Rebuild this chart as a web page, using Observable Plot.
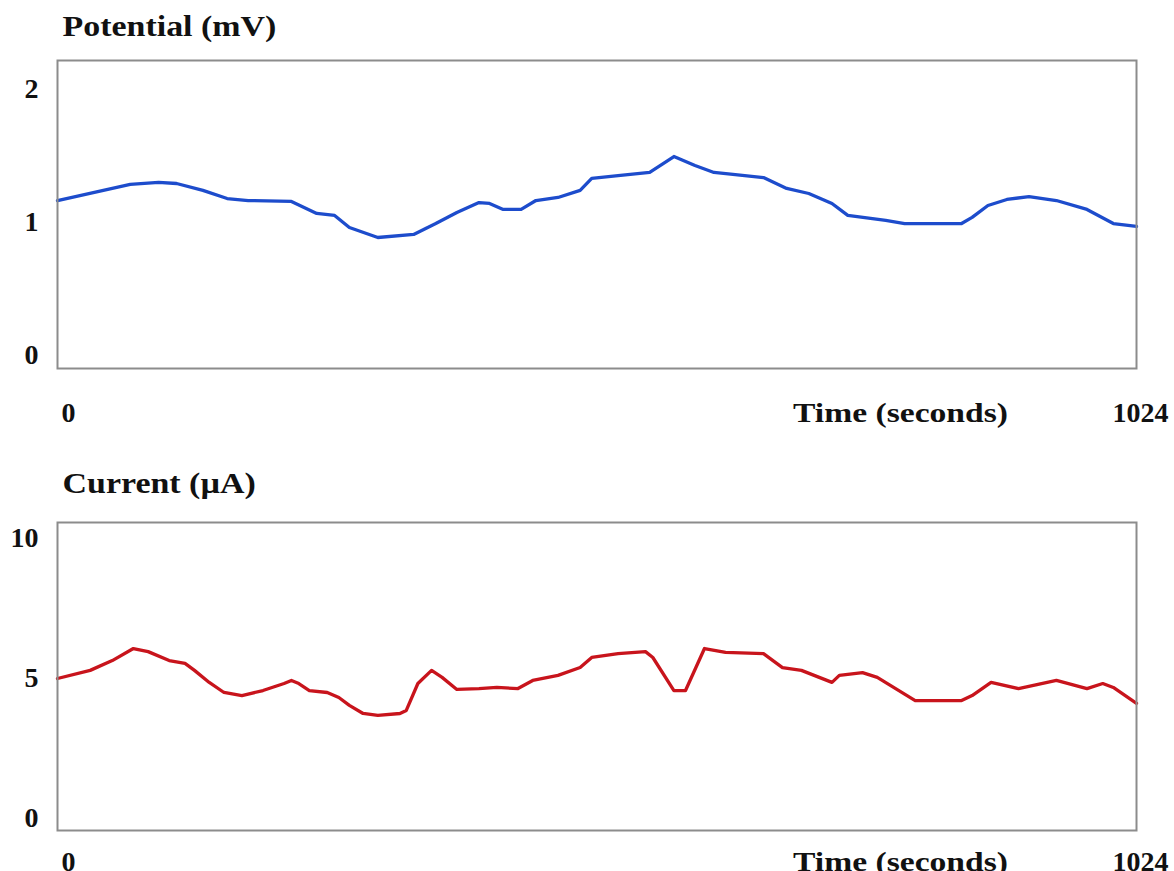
<!DOCTYPE html>
<html>
<head>
<meta charset="utf-8">
<script src="https://cdn.jsdelivr.net/npm/d3@7"></script>
<script src="https://cdn.jsdelivr.net/npm/@observablehq/plot@0.6"></script>
<style>
  html, body { margin: 0; padding: 0; background: #fff; overflow: hidden; width: 1174px; height: 871px; }
  #wrap { position: relative; width: 1174px; height: 871px; overflow: hidden; }
  .panel { position: absolute; left: 0; }
</style>
</head>
<body>
<div id="wrap">
  <div id="p1" class="panel" style="top:0px"></div>
  <div id="p2" class="panel" style="top:462px"></div>
</div>
<script>
// ---- data ----
const potentialTime = [0,35,69,96,113,138,161,181,222,236,246,263,277,304,338,359,379,400,410,423,440,454,475,496,507,532,562,585,605,623,641,670,692,713,735,750,786,804,858,868,883,901,922,948,977,1002,1024];
const potentialValue = [1.165,1.226,1.286,1.301,1.293,1.241,1.180,1.165,1.158,1.105,1.068,1.053,0.962,0.887,0.910,0.992,1.075,1.150,1.143,1.098,1.098,1.165,1.188,1.241,1.331,1.353,1.376,1.496,1.429,1.376,1.361,1.338,1.256,1.218,1.143,1.053,1.015,0.992,0.992,1.038,1.128,1.173,1.195,1.165,1.098,0.992,0.970];

const currentTime = [0,31,52,72,86,106,121,130,144,158,175,195,215,222,229,239,256,267,277,290,304,325,331,342,355,365,379,400,417,437,451,475,496,507,532,558,565,585,596,614,634,670,688,706,735,742,764,778,814,858,868,886,912,948,977,992,1002,1024];
const currentValue = [5.00,5.29,5.64,6.07,5.96,5.64,5.54,5.29,4.86,4.50,4.39,4.57,4.82,4.93,4.82,4.57,4.50,4.32,4.04,3.75,3.68,3.75,3.86,4.82,5.29,5.04,4.61,4.64,4.68,4.64,4.93,5.11,5.39,5.75,5.89,5.96,5.75,4.57,4.57,6.07,5.93,5.89,5.39,5.29,4.86,5.11,5.21,5.04,4.21,4.21,4.39,4.86,4.64,4.93,4.64,4.82,4.68,4.11];

const potentialTicks = [0, 1, 2];
const currentTicks = [0, 5, 10];
const timeTicks = [0, 1024];
const timeTickLabels = ["0", "1024"];
const timeLabel = "Time (seconds)";
const potentialTitle = "Potential (mV)";
const currentTitle = "Current (\u00b5A)";

const potentialData = potentialTime.map((t, i) => ({t, v: potentialValue[i]}));
const currentData = currentTime.map((t, i) => ({t, v: currentValue[i]}));

const FONT = "'Liberation Serif', 'DejaVu Serif', serif";

function panel(data, yDomain, yTicks, title, color, titleDy, xLabelDy, titleStretch) {
  const svg = Plot.plot({
    width: 1174,
    height: 440,
    marginLeft: 57,
    marginRight: 38,
    marginTop: 60,
    marginBottom: 72,
    style: { fontFamily: FONT, fontSize: "28px", fontWeight: "bold", color: "#111", background: "#fff", overflow: "visible" },
    x: { domain: [0, 1024], axis: null },
    y: { domain: yDomain, axis: null },
    marks: [
      Plot.axisY(yTicks, { tickSize: 0, tickPadding: 19, label: null, tickFormat: d => String(d), fontSize: 28, fontWeight: "bold", fill: "#111", textAnchor: "end" }),
      Plot.line(data, { x: "t", y: "v", stroke: color, strokeWidth: 3.3, strokeLinejoin: "round", curve: "linear" }),
      Plot.frame({ stroke: "#8c8c8c", strokeWidth: 2 }),
      Plot.text([title], { text: d => d, frameAnchor: "top-left", lineAnchor: "middle", textAnchor: "start", dx: 5, dy: titleDy, fontSize: 29, fontWeight: "bold", fill: "#111", className: "stretch-title" }),
      Plot.text([timeTickLabels[0]], { x: [timeTicks[0]], text: d => d, frameAnchor: "bottom", lineAnchor: "middle", textAnchor: "start", dx: 4, dy: xLabelDy, fontSize: 28, fontWeight: "bold", fill: "#111" }),
      Plot.text([timeTickLabels[1]], { x: [timeTicks[1]], text: d => d, frameAnchor: "bottom", lineAnchor: "middle", textAnchor: "middle", dx: 4, dy: xLabelDy, fontSize: 28, fontWeight: "bold", fill: "#111" }),
      Plot.text([timeLabel], { text: d => d, frameAnchor: "bottom-right", lineAnchor: "middle", textAnchor: "middle", dx: -236, dy: xLabelDy, fontSize: 28, fontWeight: "bold", fill: "#111", className: "stretch-label" })
    ]
  });
  svg._stretch = titleStretch;
  return svg;
}

function stretch(svg, cls, factor) {
  d3.select(svg).selectAll("g." + cls + " text").each(function () {
    const w = this.getComputedTextLength();
    this.setAttribute("textLength", (w * factor).toFixed(1));
    this.setAttribute("lengthAdjust", "spacingAndGlyphs");
  });
}

const s1 = panel(potentialData, [-0.098, 2.218], potentialTicks, potentialTitle, "#1d4ccc", -34, 45, 1.17);
const s2 = panel(currentData, [-0.429, 10.571], currentTicks, currentTitle, "#c8141c", -39, 32, 1.17);
document.getElementById("p1").appendChild(s1);
document.getElementById("p2").appendChild(s2);
for (const s of [s1, s2]) {
  stretch(s, "stretch-title", s._stretch);
  stretch(s, "stretch-label", 1.2);
}
</script>
</body>
</html>
